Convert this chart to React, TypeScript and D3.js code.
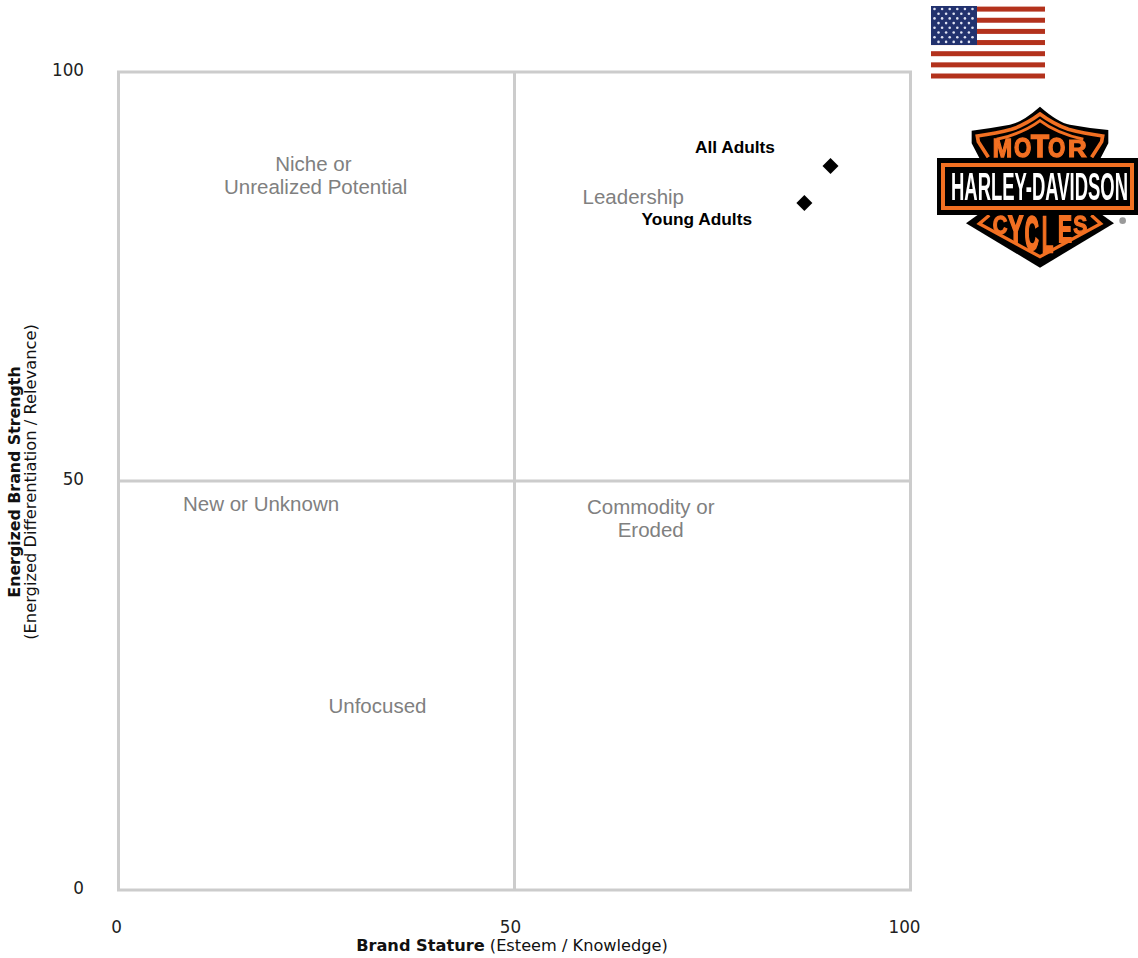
import * as d3 from 'd3';

// Chart values
const axisTicks = [0, 50, 100];
const pointNames = ['All Adults', 'Young Adults'];
const statureValues = [89.9, 86.6];
const strengthValues = [88.5, 84.0];

const quadrantLines = [
  'Niche or',
  'Unrealized Potential',
  'Leadership',
  'New or Unknown',
  'Unfocused',
  'Commodity or',
  'Eroded',
];
const quadrantX = [24.6, 24.9, 65.0, 18.0, 32.7, 67.2, 67.2];
const quadrantY = [88.8, 86.0, 84.7, 47.2, 22.5, 46.8, 44.0];

const width = 1138;
const height = 958;
const margin = { top: 72, right: 228, bottom: 68, left: 118 };

const sans = '"Liberation Sans", Arial, sans-serif';
const verdana = '"DejaVu Sans", Verdana, sans-serif';
const gridColor = '#cccccc';
const orange = '#f26f21';

const x = d3.scaleLinear().domain([0, 100]).range([margin.left + 0.5, width - margin.right + 0.5]);
const y = d3.scaleLinear().domain([0, 100]).range([height - margin.bottom, margin.top]);

const diamond = d3.symbol().type(d3.symbolSquare).size(128);

function Flag() {
  const stripes = d3.range(7);
  const starRows = d3.range(8);
  return (
    <g transform="translate(931,6)" filter="url(#soft)">
      {stripes.map(i => (
        <rect key={i} y={0.6 + i * 11.15} width={114} height={5} fill="#b3321f" />
      ))}
      <rect width={46} height={39} fill="#22306e" />
      {starRows.map(r =>
        d3.range(r % 2 ? 5 : 6).map(c => (
          <circle
            key={`${r}-${c}`}
            cx={(r % 2 ? 7.5 : 3.5) + c * 7.6}
            cy={3 + r * 4.7}
            r={1.3}
            fill="#dfe3f2"
          />
        ))
      )}
    </g>
  );
}

// advance widths of Liberation Sans Bold, used to squeeze a letter into its box
const advance: Record<string, number> = { M: 0.833, O: 0.778, T: 0.611, R: 0.722, C: 0.722, Y: 0.667, L: 0.611, E: 0.667, S: 0.667 };

function BoxLetter({ ch, left, w, top, bottom }: { ch: string; left: number; w: number; top: number; bottom: number }) {
  const fontSize = 100;
  const sx = w / (advance[ch] * fontSize);
  const sy = (bottom - top) / 69;
  return (
    <text
      transform={`translate(${left},${bottom}) scale(${sx},${sy})`}
      fontFamily={sans}
      fontWeight="bold"
      fontSize={fontSize}
      fill={orange}
      stroke={orange}
      strokeWidth={5}
    >
      {ch}
    </text>
  );
}

const motor: [string, number, number, number, number][] = [
  ['M', 188, 58, 120, 172],
  ['O', 252, 52, 116, 172],
  ['T', 303, 54, 106, 172],
  ['O', 354, 52, 116, 172],
  ['R', 414, 56, 122, 172],
];
const cyclesLetters: [string, number, number, number, number][] = [
  ['C', 188, 44, 50, 102],
  ['Y', 234, 46, 50, 126],
  ['C', 284, 42, 50, 150],
  ['L', 336, 34, 50, 155],
  ['E', 384, 42, 50, 126],
  ['S', 430, 42, 50, 102],
];

// Bar & Shield mark, sketched on 3x crops
function Logo() {
  return (
    <g filter="url(#soft)">
      <g transform="translate(930,100) scale(0.3333)">
        <path
          d="M330,20 Q385,68 420,74 Q480,85 535,90 L535,130 L510,178 L150,178 L125,130 L125,92 Q180,85 240,74 Q275,68 330,20 Z"
          fill="#000000"
        />
        <path
          d="M175,172 L145,125 L142,108 Q200,100 245,88 Q290,72 330,42 Q370,72 415,88 Q460,100 518,108 L515,125 L485,172"
          fill="none"
          stroke={orange}
          strokeWidth={11}
        />
        <path
          d="M200,118 Q280,100 330,62 Q380,100 460,118"
          fill="none"
          stroke={orange}
          strokeWidth={9}
        />
        {motor.map(([ch, left, w, top, bottom], i) => (
          <BoxLetter key={i} ch={ch} left={left} w={w} top={top} bottom={bottom} />
        ))}
      </g>
      <g transform="translate(930,200) scale(0.3333)">
        <path d="M150,40 L108,70 L330,203 L552,70 L510,40 Z" fill="#000000" />
        <path
          d="M178,46 L148,71 L330,170 L512,71 L484,46"
          fill="none"
          stroke={orange}
          strokeWidth={10}
        />
        {cyclesLetters.map(([ch, left, w, top, bottom], i) => (
          <BoxLetter key={i} ch={ch} left={left} w={w} top={top} bottom={bottom} />
        ))}
        <circle cx={578} cy={62} r={10} fill="#9a9a9a" />
      </g>
      <rect x={937} y={158} width={201} height={57} fill="#000000" />
      <rect x={943} y={165} width={189} height={43} fill="#000000" stroke={orange} strokeWidth={4} />
      <text
        transform="translate(951,200) scale(0.478,1)"
        fontFamily={sans}
        fontWeight="bold"
        fontSize={38.6}
        fill="#ffffff"
      >
        HARLEY-DAVIDSON
      </text>
    </g>
  );
}

export default function App() {
  return (
    <svg
      width={width}
      height={height}
      viewBox={`0 0 ${width} ${height}`}
      style={{ position: 'absolute', left: 0, top: 0, background: '#ffffff' }}
    >
      <defs>
        <filter id="soft">
          <feGaussianBlur stdDeviation="0.6" />
        </filter>
      </defs>

      {/* Quadrant frame */}
      <rect
        x={x(0)}
        y={y(100)}
        width={x(100) - x(0)}
        height={y(0) - y(100)}
        fill="none"
        stroke={gridColor}
        strokeWidth={3}
      />
      <line x1={x(50)} x2={x(50)} y1={y(0)} y2={y(100)} stroke={gridColor} strokeWidth={3} />
      <line x1={x(0)} x2={x(100)} y1={y(50)} y2={y(50)} stroke={gridColor} strokeWidth={3} />

      {/* Tick labels */}
      <g fontFamily={verdana} fontSize={16.8} fill="#222222">
        {axisTicks.map(t => (
          <text key={`y${t}`} x={84} y={y(t) + 4} textAnchor="end">
            {t}
          </text>
        ))}
        {axisTicks.map(t => (
          <text key={`x${t}`} x={x(t) - (t / 100) * 4 - 2} y={933} textAnchor="middle">
            {t}
          </text>
        ))}
      </g>

      {/* Axis titles */}
      <text x={512} y={951} textAnchor="middle" fontFamily={verdana} fontSize={16.2} fill="#111111">
        <tspan fontWeight="bold">Brand Stature</tspan> (Esteem / Knowledge)
      </text>
      <g transform="translate(20,482) rotate(-90)" fontFamily={verdana} textAnchor="middle" fill="#111111">
        <text fontWeight="bold" fontSize={15.8}>
          Energized Brand Strength
        </text>
        <text y={16} fontSize={16.3}>
          (Energized Differentiation / Relevance)
        </text>
      </g>

      {/* Quadrant names */}
      <g fontFamily={sans} fontSize={20.5} fill="#808080" textAnchor="middle">
        {quadrantLines.map((line, i) => (
          <text key={line} x={x(quadrantX[i])} y={y(quadrantY[i]) + 7}>
            {line}
          </text>
        ))}
      </g>

      {/* Points */}
      {pointNames.map((name, i) => (
        <path
          key={name}
          d={diamond()!}
          transform={`translate(${x(statureValues[i])},${y(strengthValues[i])}) rotate(45)`}
          fill="#000000"
        />
      ))}
      <g fontFamily={sans} fontSize={17.3} fontWeight="bold" fill="#000000" textAnchor="end">
        <text x={775} y={153}>
          {pointNames[0]}
        </text>
        <text x={752} y={225}>
          {pointNames[1]}
        </text>
      </g>

      <Flag />
      <Logo />
    </svg>
  );
}
